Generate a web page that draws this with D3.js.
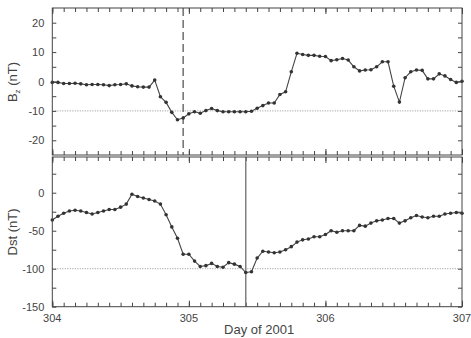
<!doctype html>
<html lang="en">
<head>
<meta charset="utf-8">
<title>Bz and Dst, day 304-307 of 2001</title>
<script src="https://cdn.jsdelivr.net/npm/d3@7"></script>
<style>
  body { margin: 0; background: #fff; }
  svg { display: block; font-family: "Liberation Sans", Arial, sans-serif; }
  .frame { fill: none; stroke: #444; stroke-width: 1; }
  .axis path { display: none; }
  .axis line { stroke: #444; }
  .axis text { fill: #444; font-size: 11px; }
  .ref { stroke: #777; stroke-width: 0.8; stroke-dasharray: 1,1.5; }
  .series { fill: none; stroke: #444; stroke-width: 1.1; }
  .dot { fill: #333; }
</style>
</head>
<body>
<script>
// hourly samples starting at day 304.0
var startDay = 304;
var bzValues = [
  -0.3, -0.3, -0.7, -0.7, -0.6, -0.8, -1.1, -1.0, -1.0, -1.1, -1.4, -1.1,
  -1.0, -0.8, -1.5, -1.8, -1.9, -1.9, 0.5, -5.2, -7.1, -10.5, -13.0, -12.4,
  -11.0, -10.3, -10.8, -9.9, -9.2, -9.9, -10.3, -10.3, -10.3, -10.3, -10.3, -10.1,
  -9.1, -8.2, -7.3, -7.3, -4.4, -3.5, 3.3, 9.6, 9.2, 8.9, 8.9, 8.6,
  8.5, 7.1, 7.4, 7.8, 7.3, 5.0, 3.6, 3.9, 4.0, 5.0, 6.7, 6.7,
  -1.6, -7.0, 1.3, 3.3, 3.9, 3.8, 0.9, 0.9, 2.6, 1.9, 0.7, -0.3, 0.1
];
var dstValues = [
  -36, -31, -27, -24, -23, -24, -26, -28, -26, -24, -22, -22,
  -19, -15, -2, -5, -7, -9, -11, -15, -29, -45, -60, -81,
  -81, -90, -97, -96, -93, -97, -98, -92, -94, -97, -105, -104,
  -86, -77, -78, -79, -78, -75, -71, -65, -62, -61, -58, -58,
  -55, -50, -52, -50, -50, -50, -43, -44, -40, -37, -36, -34,
  -34, -40, -37, -33, -30, -32, -33, -31, -31, -28, -27, -26, -27
];
var dayTicks = [304, 305, 306, 307];
var bzTicks = [-20, -10, 0, 10, 20];
var dstTicks = [-150, -100, -50, 0];
var shockDay = 304 + 23 / 24;   // dashed marker
var minDstDay = 304 + 34 / 24;  // solid marker
var bzRef = -10, dstRef = -100;

var W = 471, H = 338;
var left = 52.3, right = 462;

var bzData = bzValues.map((v, i) => ({ t: startDay + i / 24, v: v }));
var dstData = dstValues.map((v, i) => ({ t: startDay + i / 24, v: v }));

var svg = d3.select("body").append("svg")
    .attr("width", W).attr("height", H);

var x = d3.scaleLinear().domain([304, 307]).range([left, right]);
var minorX = d3.range(304 * 12, 307 * 12 + 1).map(d => d / 12);

function panel(cfg) {
  var y = d3.scaleLinear().domain(cfg.domain).range([cfg.bottom, cfg.top]);
  var g = svg.append("g");

  // x ticks, bottom and top edges, pointing inward
  [[d3.axisBottom, cfg.bottom], [d3.axisTop, cfg.top]].forEach(function(a) {
    g.append("g").attr("class", "axis")
      .attr("transform", "translate(0," + a[1] + ")")
      .call(a[0](x).tickValues(minorX).tickSize(-4).tickFormat(""));
    g.append("g").attr("class", "axis")
      .attr("transform", "translate(0," + a[1] + ")")
      .call(a[0](x).tickValues(dayTicks).tickSize(-6).tickFormat(""));
  });

  // y ticks left (labelled, plain hyphen minus) and right
  g.append("g").attr("class", "axis")
    .attr("transform", "translate(" + left + ",0)")
    .call(d3.axisLeft(y).tickValues(cfg.minorY).tickSize(-4).tickFormat(""));
  g.append("g").attr("class", "axis")
    .attr("transform", "translate(" + left + ",0)")
    .call(d3.axisLeft(y).tickValues(cfg.ticks).tickSize(0).tickPadding(8)
      .tickFormat(d => String(d)));
  g.append("g").attr("class", "axis")
    .attr("transform", "translate(" + right + ",0)")
    .call(d3.axisRight(y).tickValues(cfg.minorY).tickSize(-4).tickFormat(""));

  // reference level
  g.append("line").attr("class", "ref")
    .attr("x1", left).attr("x2", right)
    .attr("y1", y(cfg.ref)).attr("y2", y(cfg.ref));

  // event marker
  g.append("line")
    .attr("x1", x(cfg.markDay)).attr("x2", x(cfg.markDay))
    .attr("y1", cfg.top).attr("y2", cfg.bottom)
    .attr("stroke", "#777")
    .attr("stroke-width", cfg.dashed ? 1.6 : 1.4)
    .attr("stroke-dasharray", cfg.dashed ? "8,4" : null);

  var line = d3.line().x(d => x(d.t)).y(d => y(d.v));
  g.append("path").datum(cfg.data).attr("class", "series").attr("d", line);
  g.selectAll("circle.dot").data(cfg.data).enter().append("circle")
    .attr("class", "dot")
    .attr("cx", d => x(d.t)).attr("cy", d => y(d.v)).attr("r", 1.8);

  g.append("rect").attr("class", "frame")
    .attr("x", left).attr("y", cfg.top)
    .attr("width", right - left).attr("height", cfg.bottom - cfg.top);

  return y;
}

panel({
  top: 8, bottom: 155, domain: [-25, 25], ticks: bzTicks,
  minorY: d3.range(-20, 21, 5), ref: bzRef, data: bzData,
  markDay: shockDay, dashed: true
});

panel({
  top: 157, bottom: 306.7, domain: [-150, 47], ticks: dstTicks,
  minorY: d3.range(-150, 26, 25), ref: dstRef, data: dstData,
  markDay: minDstDay, dashed: false
});

// x tick labels under the lower panel
svg.append("g").selectAll("text").data(dayTicks).enter().append("text")
  .attr("x", d => x(d)).attr("y", 322)
  .attr("text-anchor", "middle")
  .attr("fill", "#444").attr("font-size", 11)
  .text(d => d);

svg.append("text")
  .attr("x", (left + right) / 2 + 2).attr("y", 334)
  .attr("text-anchor", "middle")
  .attr("fill", "#444").attr("font-size", 13)
  .text("Day of 2001");

// y labels
var bzLabel = svg.append("text")
  .attr("transform", "translate(17,82) rotate(-90)")
  .attr("text-anchor", "middle")
  .attr("fill", "#444").attr("font-size", 13);
bzLabel.append("tspan").text("B");
bzLabel.append("tspan").attr("font-size", 8).attr("dy", 3).text("z");
bzLabel.append("tspan").attr("dy", -3).text(" (nT)");

svg.append("text")
  .attr("transform", "translate(17,232) rotate(-90)")
  .attr("text-anchor", "middle")
  .attr("fill", "#444").attr("font-size", 13)
  .text("Dst (nT)");
</script>
</body>
</html>
